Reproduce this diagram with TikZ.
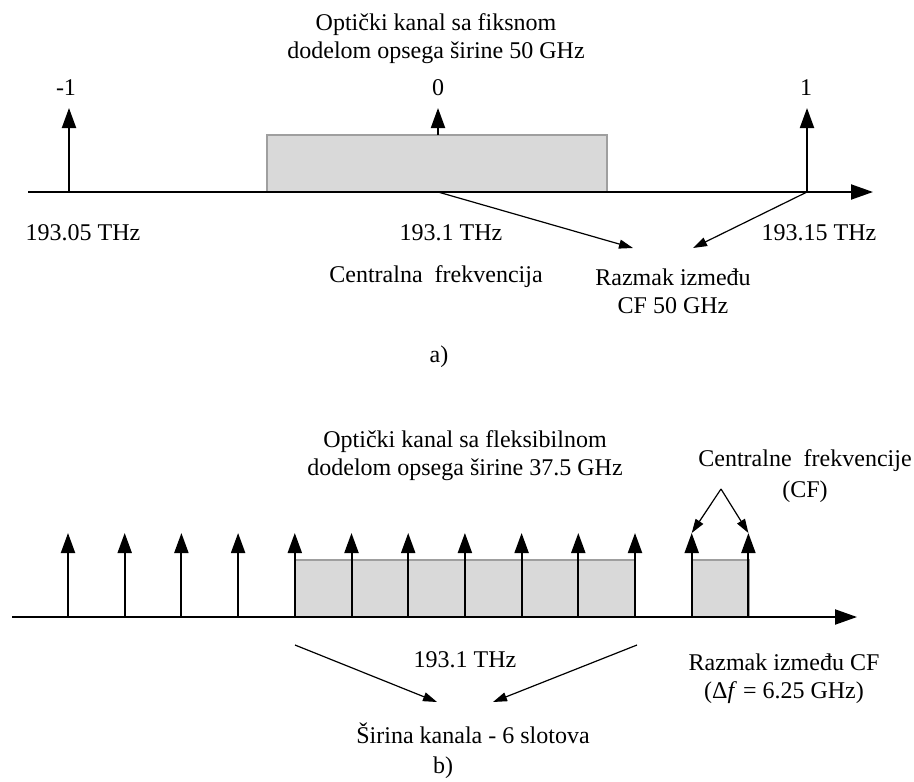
\documentclass[tikz,border=0pt]{standalone}
\usepackage{fontspec}
\setmainfont{Liberation Serif}
\usetikzlibrary{arrows.meta}

\begin{document}
\begin{tikzpicture}[x=0.5pt,y=-0.5pt,
  lbl/.style={font=\fontsize{12}{14}\selectfont,align=center,inner sep=0pt},
  slot/.style={fill=gray!30,draw=gray!75,line width=0.8pt},
  tick/.style={-{Triangle[length=10pt,width=7pt]},line width=1pt},
  axis/.style={-{Triangle[length=11pt,width=7.5pt]},line width=1pt},
  pointer/.style={-{Triangle[length=7pt,width=4.5pt]},line width=0.6pt}]
\useasboundingbox (0,0) rectangle (914,781);

% a) fiksna mreza
\filldraw[slot](267,192) rectangle (607,135);
\coordinate (a0) at (28,192);
\coordinate (a1) at (873,192);
\draw[axis](a0)--(a1);
\coordinate (fm) at (69,192);
\coordinate (fm t) at (69,108);
\coordinate (fc) at (438,192);
\coordinate (fc b) at (438,135);
\coordinate (fc t) at (438,108);
\coordinate (fp) at (807,192);
\coordinate (fp t) at (807,108);
\draw[tick](fm)--(fm t);
\draw[tick](fc b)--(fc t);
\draw[tick](fp)--(fp t);
\node[lbl] (titleA) at (436,39) {Optički kanal sa fiksnom\\dodelom opsega širine 50 GHz};
\node[lbl] (nm) at (66,88) {-1};
\node[lbl] (nc) at (438,88) {0};
\node[lbl] (np) at (806,88) {1};
\node[lbl] (fqm) at (83,233) {193.05 THz};
\node[lbl] (fqc) at (451,233) {193.1 THz};
\node[lbl] (fqp) at (819,233) {193.15 THz};
\node[lbl] (cfA) at (436,277) {Centralna\ \ frekvencija};
\node[lbl] (gapA) at (673,291) {Razmak između\\CF 50 GHz};
\coordinate (ra) at (633,248);
\coordinate (rb) at (693,248);
\draw[pointer](fc)--(ra);
\draw[pointer](fp)--(rb);
\node[lbl] (capA) at (439,357) {a)};

% b) fleksibilna mreza
\filldraw[slot](295,617) rectangle (635,560);
\filldraw[slot](692,617) rectangle (749,560);
\coordinate (b0) at (12,617);
\coordinate (b1) at (857,617);
\draw[axis](b0)--(b1);
\foreach \i in {0,...,12}{
  \coordinate (s\i) at ({68+56.7*\i},617);
  \coordinate (t\i) at ({68+56.7*\i},533);
  \draw[tick](s\i)--(t\i);
}
\node[lbl] (titleB) at (465,456) {Optički kanal sa fleksibilnom\\dodelom opsega širine 37.5 GHz};
\node[lbl,font=\fontsize{12}{15.5}\selectfont] (cfB) at (805,476) {Centralne\ \ frekvencije\\(CF)};
\coordinate (cf) at (721,489);
\draw[pointer](cf)--(t11);
\draw[pointer](cf)--(t12);
\node[lbl] (fqB) at (465,660) {193.1 THz};
\node[lbl] (gapB) at (784,679) {Razmak između CF\\(Δ\textit{f} = 6.25 GHz)};
\coordinate (wl) at (295,645);
\coordinate (wr) at (637,645);
\coordinate (wla) at (437,702);
\coordinate (wra) at (493,702);
\draw[pointer](wl)--(wla);
\draw[pointer](wr)--(wra);
\node[lbl] (width) at (473,733) {Širina kanala - 6 slotova};
\node[lbl] (capB) at (443,768) {b)};
\end{tikzpicture}
\end{document}
